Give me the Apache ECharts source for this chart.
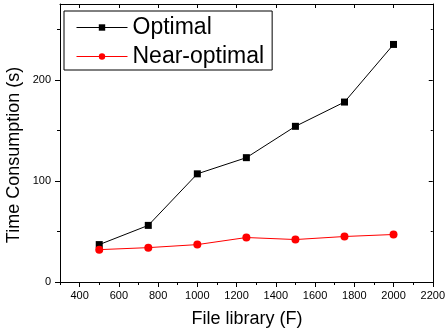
<!DOCTYPE html>
<html>
<head>
<meta charset="utf-8">
<script src="https://cdn.jsdelivr.net/npm/echarts@6/dist/echarts.min.js"></script>
<style>
  html, body { margin: 0; padding: 0; background: #fff; }
  #chart { width: 448px; height: 332px; }
</style>
</head>
<body>
<div id="chart"></div>
<script>
// File library sizes and time consumption (seconds)
const fileLibrary = [500, 750, 1000, 1250, 1500, 1750, 2000];
const optimal = [37, 56, 107, 123, 154, 178, 235];
const nearOptimal = [32, 34, 37, 44, 42, 45, 47];

// Tick positions
const xMajor = [400, 600, 800, 1000, 1200, 1400, 1600, 1800, 2000, 2200];
const xMinor = [300, 500, 700, 900, 1100, 1300, 1500, 1700, 1900, 2100];
const yMajor = [0, 100, 200];
const yMinor = [50, 150, 250];

const font = 'Liberation Sans, Arial, Helvetica, sans-serif';
const chart = echarts.init(document.getElementById('chart'), null, { renderer: 'canvas' });
const plain = v => String(v);

function xAxisDef(opts) {
  return Object.assign({
    type: 'value', min: 300, max: 2200, gridIndex: 0,
    splitLine: { show: false },
    axisLine: { show: true, onZero: false, lineStyle: { color: '#000', width: 1 } },
    axisLabel: { show: false },
    axisTick: { show: false }
  }, opts);
}
function yAxisDef(opts) {
  return Object.assign({
    type: 'value', min: 0, max: 275, gridIndex: 0,
    splitLine: { show: false },
    axisLine: { show: true, onZero: false, lineStyle: { color: '#000', width: 1 } },
    axisLabel: { show: false },
    axisTick: { show: false }
  }, opts);
}

const option = {
  animation: false,
  backgroundColor: '#fff',
  grid: { left: 60, right: 15, top: 4, bottom: 50, containLabel: false },
  xAxis: [
    xAxisDef({
      position: 'bottom',
      axisLabel: { show: true, customValues: xMajor, formatter: plain, margin: 8, fontSize: 11, color: '#000', fontFamily: font },
      axisTick: { show: true, customValues: xMajor, length: 5, inside: false, lineStyle: { color: '#000' } }
    }),
    xAxisDef({
      position: 'bottom',
      axisLine: { show: false },
      axisTick: { show: true, customValues: xMinor, length: 3, inside: false, lineStyle: { color: '#000' } }
    }),
    xAxisDef({
      position: 'top',
      axisTick: { show: true, customValues: xMajor, length: 4, inside: true, lineStyle: { color: '#000' } }
    }),
    xAxisDef({
      position: 'top',
      axisLine: { show: false },
      axisTick: { show: true, customValues: xMinor, length: 2, inside: true, lineStyle: { color: '#000' } }
    })
  ],
  yAxis: [
    yAxisDef({
      position: 'left',
      axisLabel: { show: true, customValues: yMajor, formatter: plain, margin: 9, fontSize: 11, color: '#000', fontFamily: font },
      axisTick: { show: true, customValues: yMajor, length: 5, inside: false, lineStyle: { color: '#000' } }
    }),
    yAxisDef({
      position: 'left',
      axisLine: { show: false },
      axisTick: { show: true, customValues: yMinor, length: 3, inside: false, lineStyle: { color: '#000' } }
    }),
    yAxisDef({
      position: 'right',
      axisTick: { show: true, customValues: yMajor, length: 4, inside: true, lineStyle: { color: '#000' } }
    }),
    yAxisDef({
      position: 'right',
      axisLine: { show: false },
      axisTick: { show: true, customValues: yMinor, length: 2, inside: true, lineStyle: { color: '#000' } }
    })
  ],
  legend: {
    orient: 'vertical',
    left: 64, top: 11,
    padding: [5, 8, 2, 12],
    itemGap: 6,
    itemWidth: 51,
    itemHeight: 8,
    borderColor: '#000',
    borderWidth: 1,
    lineStyle: { width: 1 },
    textStyle: { fontSize: 23, color: '#000', fontFamily: font, lineHeight: 23 },
    data: ['Optimal', 'Near-optimal']
  },
  graphic: [
    {
      type: 'text', x: 14, y: 155, rotation: Math.PI / 2,
      style: { text: 'Time Consumption (s)', fontSize: 18, fontFamily: font, fill: '#000', align: 'center', verticalAlign: 'middle' }
    },
    {
      type: 'text', x: 247, y: 319,
      style: { text: 'File library (F)', fontSize: 18, fontFamily: font, fill: '#000', align: 'center', verticalAlign: 'middle' }
    }
  ],
  series: [
    {
      name: 'Optimal', type: 'line',
      data: fileLibrary.map((f, i) => [f, optimal[i]]),
      symbol: 'rect', symbolSize: 7,
      itemStyle: { color: '#000' },
      lineStyle: { color: '#000', width: 1 }
    },
    {
      name: 'Near-optimal', type: 'line',
      data: fileLibrary.map((f, i) => [f, nearOptimal[i]]),
      symbol: 'circle', symbolSize: 8,
      itemStyle: { color: '#ff0000' },
      lineStyle: { color: '#ff0000', width: 1 }
    }
  ]
};
chart.setOption(option);
</script>
</body>
</html>
